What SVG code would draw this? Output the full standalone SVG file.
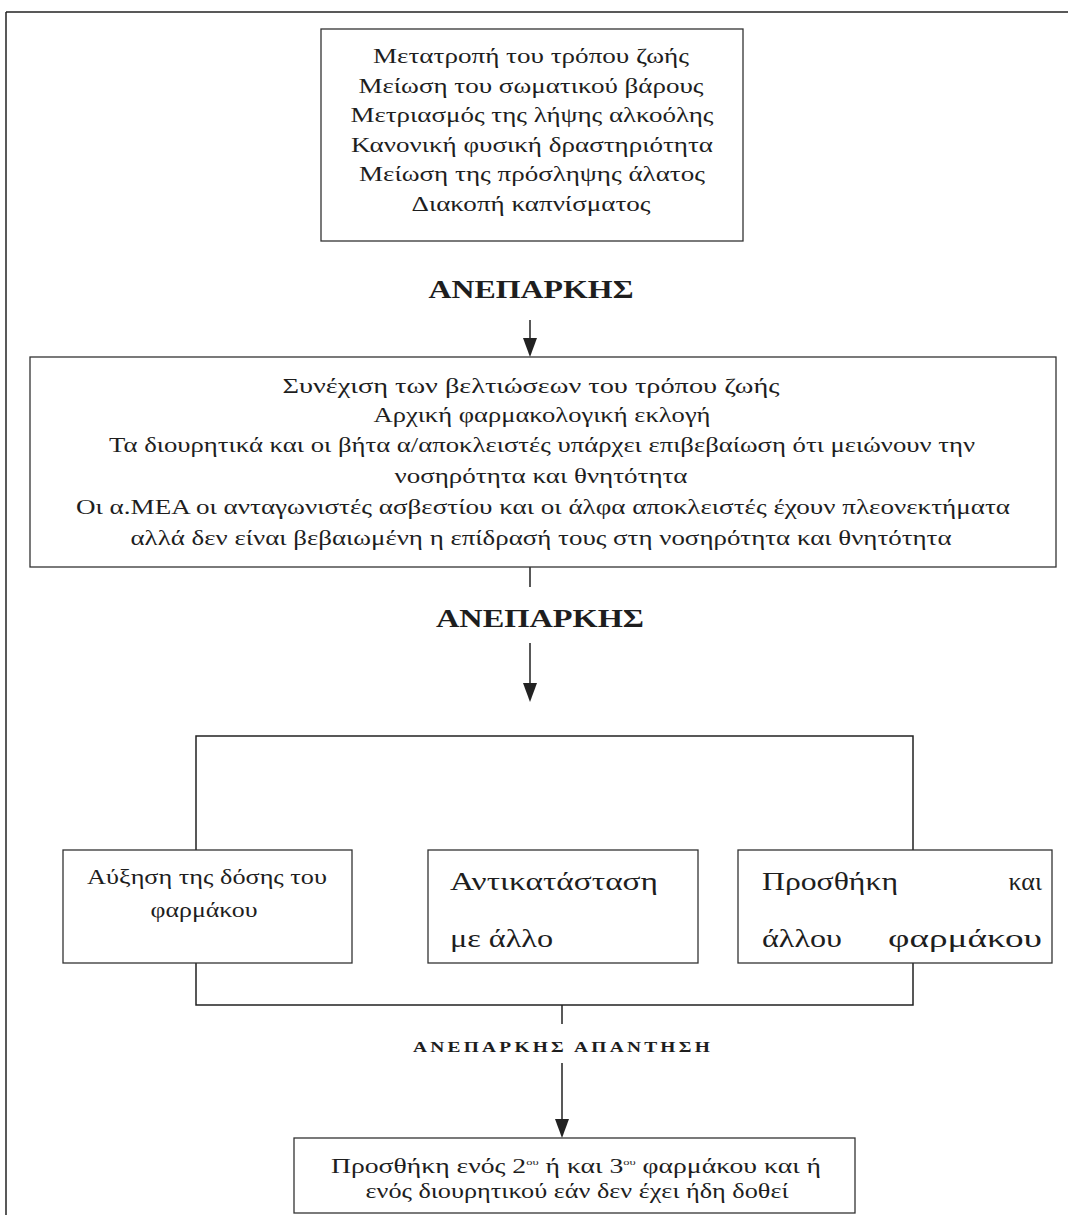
<svg xmlns="http://www.w3.org/2000/svg" width="1068" height="1215" viewBox="0 0 1068 1215">
<style>
.box{fill:#fff;stroke:#333;stroke-width:1.3}
.t{font-family:"Liberation Serif","DejaVu Serif Condensed","DejaVu Serif",serif;fill:#1e1e1e}
.c{text-anchor:middle}
.hd{font-family:"Liberation Serif","DejaVu Serif Condensed",serif;font-weight:bold;fill:#1e1e1e;text-anchor:middle}
.ln{stroke:#222;stroke-width:1.5;fill:none}
</style>
<rect width="1068" height="1215" fill="#fff"/>
<g id="frame">
<line x1="6" y1="12" x2="1068" y2="12" class="ln" stroke-width="1.2"/>
<line x1="6" y1="12" x2="6" y2="1215" class="ln" stroke-width="1"/>
</g>
<g id="connectors">
<line x1="530" y1="320" x2="530" y2="338" class="ln"/>
<path d="M523,338 L537,338 L530,357 Z" fill="#222"/>
<line x1="530" y1="567" x2="530" y2="587" class="ln"/>
<line x1="530" y1="643" x2="530" y2="683" class="ln"/>
<path d="M523,683 L537,683 L530,702 Z" fill="#222"/>
<polyline points="196,850 196,736 913,736 913,850" class="ln"/>
<polyline points="196,963 196,1005 913,1005 913,963" class="ln"/>
<line x1="562" y1="1005" x2="562" y2="1024" class="ln" stroke-width="1"/>
<line x1="562" y1="1063" x2="562" y2="1119" class="ln"/>
<path d="M555,1119 L569,1119 L562,1138 Z" fill="#222"/>
</g>
<g id="n1" class="t c" font-size="21">
<rect x="321" y="29" width="422" height="212" class="box"/>
<text x="531" y="63" textLength="316" lengthAdjust="spacingAndGlyphs">Μετατροπή του τρόπου ζωής</text>
<text x="531" y="93" textLength="345" lengthAdjust="spacingAndGlyphs">Μείωση του σωματικού βάρους</text>
<text x="532" y="122" textLength="363" lengthAdjust="spacingAndGlyphs">Μετριασμός της λήψης αλκοόλης</text>
<text x="532" y="152" textLength="362" lengthAdjust="spacingAndGlyphs">Κανονική φυσική δραστηριότητα</text>
<text x="532" y="181" textLength="346" lengthAdjust="spacingAndGlyphs">Μείωση της πρόσληψης άλατος</text>
<text x="531" y="211" textLength="239" lengthAdjust="spacingAndGlyphs">Διακοπή καπνίσματος</text>
</g>
<g id="l1"><text class="hd" font-size="26" x="531" y="298" textLength="205" lengthAdjust="spacingAndGlyphs">ΑΝΕΠΑΡΚΗΣ</text></g>
<g id="n2" class="t c" font-size="21">
<rect x="30" y="357" width="1026" height="210" class="box"/>
<text x="531" y="393" textLength="497" lengthAdjust="spacingAndGlyphs">Συνέχιση των βελτιώσεων του τρόπου ζωής</text>
<text x="542" y="422" textLength="337" lengthAdjust="spacingAndGlyphs">Αρχική φαρμακολογική εκλογή</text>
<text x="542" y="452" textLength="866" lengthAdjust="spacingAndGlyphs">Τα διουρητικά και οι βήτα α/αποκλειστές υπάρχει επιβεβαίωση ότι μειώνουν την</text>
<text x="541" y="483" textLength="293" lengthAdjust="spacingAndGlyphs">νοσηρότητα και θνητότητα</text>
<text x="543" y="514" textLength="934" lengthAdjust="spacingAndGlyphs">Οι α.ΜΕΑ οι ανταγωνιστές ασβεστίου και οι άλφα αποκλειστές έχουν πλεονεκτήματα</text>
<text x="541" y="545" textLength="821" lengthAdjust="spacingAndGlyphs">αλλά δεν είναι βεβαιωμένη η επίδρασή τους στη νοσηρότητα και θνητότητα</text>
</g>
<g id="l2"><text class="hd" font-size="26" x="540" y="627" textLength="208" lengthAdjust="spacingAndGlyphs">ΑΝΕΠΑΡΚΗΣ</text></g>
<g id="n3" class="t c" font-size="22">
<rect x="63" y="850" width="289" height="113" class="box"/>
<text x="207" y="884" textLength="240" lengthAdjust="spacingAndGlyphs">Αύξηση της δόσης του</text>
<text x="204" y="917" textLength="107" lengthAdjust="spacingAndGlyphs">φαρμάκου</text>
</g>
<g id="n4" class="t" font-size="26">
<rect x="428" y="850" width="270" height="113" class="box"/>
<text x="450" y="890" textLength="208" lengthAdjust="spacingAndGlyphs">Αντικατάσταση</text>
<text x="450" y="947" textLength="103" lengthAdjust="spacingAndGlyphs">με άλλο</text>
</g>
<g id="n5" class="t" font-size="26">
<rect x="738" y="850" width="314" height="113" class="box"/>
<text x="762" y="890" textLength="136" lengthAdjust="spacingAndGlyphs">Προσθήκη</text>
<text x="1042" y="890" text-anchor="end">και</text>
<text x="762" y="947" textLength="80" lengthAdjust="spacingAndGlyphs">άλλου</text>
<text x="888" y="947" textLength="154" lengthAdjust="spacingAndGlyphs">φαρμάκου</text>
</g>
<g id="l3"><text class="hd" font-size="15" letter-spacing="2.5" x="563" y="1052" textLength="300" lengthAdjust="spacingAndGlyphs">ΑΝΕΠΑΡΚΗΣ ΑΠΑΝΤΗΣΗ</text></g>
<g id="n6" class="t c" font-size="20">
<rect x="294" y="1138" width="561" height="75" class="box"/>
<text x="576" y="1173" textLength="490" lengthAdjust="spacingAndGlyphs">Προσθήκη ενός 2<tspan dy="-8" font-size="9">ου</tspan><tspan dy="8"> ή και 3</tspan><tspan dy="-8" font-size="9">ου</tspan><tspan dy="8"> φαρμάκου και ή</tspan></text>
<text x="577" y="1198" textLength="423" lengthAdjust="spacingAndGlyphs">ενός διουρητικού εάν δεν έχει ήδη δοθεί</text>
</g>
</svg>
